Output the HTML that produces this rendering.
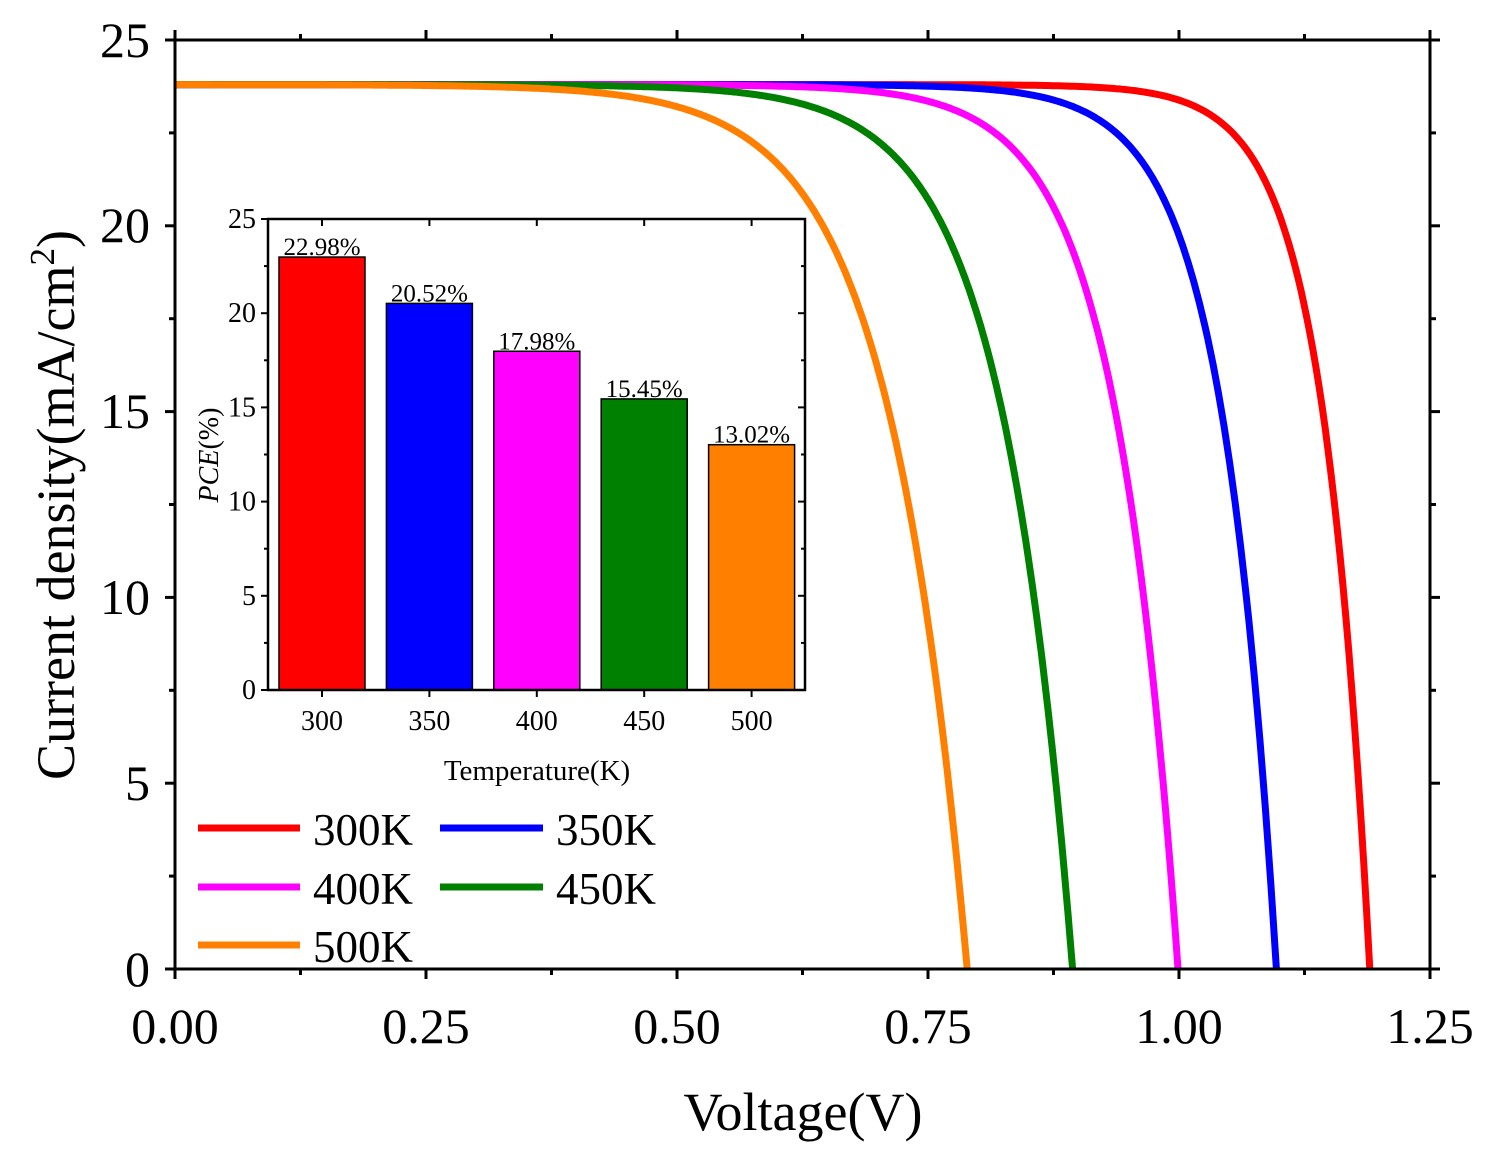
<!DOCTYPE html>
<html><head><meta charset="utf-8"><style>
body{margin:0;background:#fff;}
svg{display:block;font-family:"Liberation Serif",serif;}
</style></head><body>
<svg id="s" width="1501" height="1159" viewBox="0 0 1501 1159" xmlns="http://www.w3.org/2000/svg">
<g id="curves" fill="none" stroke-width="7" stroke-linejoin="round"></g>
<rect x="175" y="40" width="1255" height="929" fill="none" stroke="#000" stroke-width="3"/>
<g id="ticks" stroke="#000" stroke-width="3"></g>
<g font-size="50" text-anchor="middle" fill="#000">
<text x="175" y="1043">0.00</text><text x="426" y="1043">0.25</text><text x="677" y="1043">0.50</text>
<text x="928" y="1043">0.75</text><text x="1179" y="1043">1.00</text><text x="1430" y="1043">1.25</text>
</g>
<g font-size="50" text-anchor="end" fill="#000">
<text x="150" y="986">0</text><text x="150" y="800">5</text><text x="150" y="614">10</text>
<text x="150" y="428">15</text><text x="150" y="242">20</text><text x="150" y="57">25</text>
</g>
<text x="803" y="1130" font-size="54" text-anchor="middle">Voltage(V)</text>
<text transform="translate(74,505) rotate(-90)" font-size="54" text-anchor="middle">Current density(mA/cm<tspan dy="-20" font-size="35">2</tspan><tspan dy="20">)</tspan></text>
<!-- legend -->
<g stroke-width="7">
<line x1="198" y1="828" x2="300" y2="828" stroke="#ff0000"/>
<line x1="440" y1="828" x2="543" y2="828" stroke="#0000ff"/>
<line x1="198" y1="887" x2="300" y2="887" stroke="#ff00ff"/>
<line x1="440" y1="887" x2="543" y2="887" stroke="#008000"/>
<line x1="198" y1="945" x2="300" y2="945" stroke="#ff8000"/>
</g>
<g font-size="45" fill="#000">
<text x="313" y="845">300K</text><text x="556" y="845">350K</text>
<text x="313" y="904">400K</text><text x="556" y="904">450K</text>
<text x="313" y="962">500K</text>
</g>
<!-- inset -->
<rect x="268" y="219" width="537" height="471" fill="#fff" stroke="none"/>
<g id="bars" stroke="#000" stroke-width="1.5"></g>
<rect x="268" y="219" width="537" height="471" fill="none" stroke="#000" stroke-width="2.5"/>
<g id="iticks" stroke="#000" stroke-width="2"></g>
<g font-size="28" text-anchor="end" fill="#000" id="iyl"></g>
<g font-size="28" text-anchor="middle" fill="#000" id="ixl"></g>
<text x="537" y="780" font-size="29" text-anchor="middle">Temperature(K)</text>
<text transform="translate(218,455) rotate(-90)" font-size="28" text-anchor="middle"><tspan font-style="italic">PCE</tspan>(%)</text>
</svg>
<script>
var NS="http://www.w3.org/2000/svg";
function el(p,t,a,txt){var e=document.createElementNS(NS,t);for(var k in a)e.setAttribute(k,a[k]);if(txt!=null)e.textContent=txt;p.appendChild(e);return e;}
var X=function(v){return 175+v*1004;},Y=function(j){return 969-j*37.16;};
var cs=[[300,1.19,"#ff0000"],[350,1.097,"#0000ff"],[400,0.999,"#ff00ff"],[450,0.894,"#008000"],[500,0.789,"#ff8000"]];
var cg=document.getElementById("curves");
cs.forEach(function(c){var a=0.047*c[0]/300,Jsc=23.8,d="";
for(var i=0;i<=400;i++){var v=c[1]*i/400;var j=Jsc*(1-Math.exp((v-c[1])/a));if(j<0)j=0;d+=(i?"L":"M")+X(v).toFixed(1)+" "+Y(j).toFixed(1);}
el(cg,"path",{d:d,stroke:c[2]});});
var tg=document.getElementById("ticks");
for(var i=0;i<=10;i++){var x=175+i*125.5;var L=i%2?6:10;el(tg,"line",{x1:x,y1:969,x2:x,y2:969+L});el(tg,"line",{x1:x,y1:40,x2:x,y2:40-L});}
for(var i=0;i<=10;i++){var y=969-i*92.9;var L=i%2?6:10;el(tg,"line",{x1:175,y1:y,x2:175-L,y2:y});el(tg,"line",{x1:1430,y1:y,x2:1430+L,y2:y});}
var bg=document.getElementById("bars");
var vals=[22.98,20.52,17.98,15.45,13.02],bc=["#ff0000","#0000ff","#ff00ff","#008000","#ff8000"],lab=["300","350","400","450","500"];
var iY=function(v){return 690-v*18.84;};
var ix=document.getElementById("ixl"),iy=document.getElementById("iyl"),it=document.getElementById("iticks");
vals.forEach(function(v,k){var cx=322+k*107.4;el(bg,"rect",{x:cx-43,y:iY(v),width:86,height:690-iY(v),fill:bc[k]});
el(ix,"text",{x:cx,y:730},lab[k]);el(ix,"text",{x:cx,y:iY(v)-2,"font-size":"25"},v.toFixed(2)+"%");
el(it,"line",{x1:cx,y1:690,x2:cx,y2:697});el(it,"line",{x1:cx,y1:219,x2:cx,y2:226});});
for(var i=0;i<=10;i++){var y=690-i*47.1;var L=i%2?4:7;el(it,"line",{x1:268,y1:y,x2:268-L,y2:y});el(it,"line",{x1:805,y1:y,x2:805-L,y2:y});
if(i%2==0)el(iy,"text",{x:256,y:y+9},String(i*2.5));}
</script>
</body></html>
